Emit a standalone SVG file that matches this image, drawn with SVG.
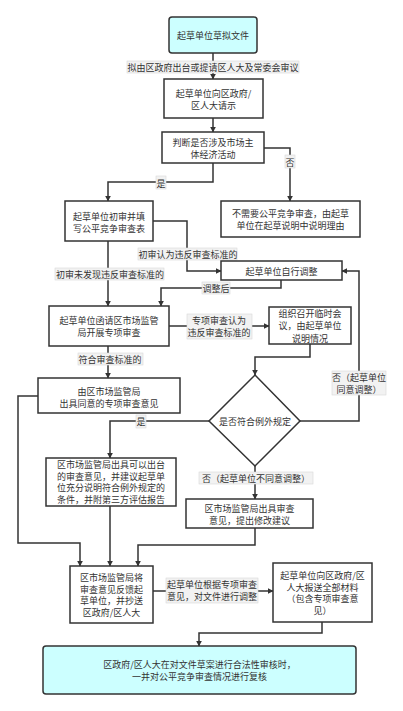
<svg xmlns="http://www.w3.org/2000/svg" width="403" height="711" viewBox="0 0 403 711">
<defs>
<marker id="arr" viewBox="0 0 10 10" refX="9" refY="5" markerWidth="6" markerHeight="6" orient="auto" markerUnits="userSpaceOnUse">
<path d="M0,0 L10,5 L0,10 Z" fill="#333"/>
</marker>
<style>
.box{fill:#fff;stroke:#333;stroke-width:1.5}
.cyan{fill:#ccffff;stroke:#333;stroke-width:1.5}
.e{fill:none;stroke:#333;stroke-width:1.5;marker-end:url(#arr)}
.t{font-family:"Noto Sans CJK SC","Noto Sans",sans-serif;font-size:9px;fill:#333;text-anchor:middle;dominant-baseline:central}
.lb{fill:#f2f2f2;stroke:#d8d8d8;stroke-width:0.6}
</style>
</defs>
<rect width="403" height="711" fill="#fff"/>
<g id="connectors">
<path class="e" d="M213,53 V79"/>
<path class="e" d="M213,118 V132"/>
<path class="e" d="M264,148 H290 V201"/>
<path class="e" d="M213,163 V182 H108 V201"/>
<path class="e" d="M153,221 H187 V271 H221"/>
<path class="e" d="M108,241 V306"/>
<path class="e" d="M281,280 V288 H161 V306"/>
<path class="e" d="M169,326 H269"/>
<path class="e" d="M310,344 V357 H255 V375"/>
<path class="e" d="M108,346 V378"/>
<path class="e" d="M300,421 H359 V271 H342"/>
<path class="e" d="M209,421 H110 V458"/>
<path class="e" d="M255,466 V499"/>
<path class="e" d="M38,396 H18 V543 H80 V566"/>
<path class="e" d="M110,506 V566"/>
<path class="e" d="M255,528 V545 H138 V566"/>
<path class="e" d="M153,591 H273"/>
<path class="e" d="M322,622 V633 H199 V646"/>
</g>
<g id="labels">
<rect class="lb" x="127" y="61" width="172" height="12"/>
<text class="t" x="213" y="67">拟由区政府出台或提请区人大及常委会审议</text>
<rect class="lb" x="285" y="155" width="10" height="13"/>
<text class="t" x="290" y="162">否</text>
<rect class="lb" x="156" y="176" width="10" height="13"/>
<text class="t" x="161" y="183">是</text>
<rect class="lb" x="138" y="248" width="99" height="12"/>
<text class="t" x="188" y="254">初审认为违反审查标准的</text>
<rect class="lb" x="55" y="268" width="109" height="12"/>
<text class="t" x="110" y="274">初审未发现违反审查标准的</text>
<rect class="lb" x="202" y="282" width="28" height="12"/>
<text class="t" x="216" y="288">调整后</text>
<rect class="lb" x="187" y="314" width="65" height="25"/>
<text class="t" x="219" y="320.5">专项审查认为</text>
<text class="t" x="219" y="332.5">违反审查标准的</text>
<rect class="lb" x="78" y="353" width="65" height="12"/>
<text class="t" x="110" y="359">符合审查标准的</text>
<rect class="lb" x="332" y="371" width="54" height="24"/>
<text class="t" x="359" y="377">否（起草单位</text>
<text class="t" x="359" y="389">同意调整）</text>
<rect class="lb" x="136" y="415" width="10" height="13"/>
<text class="t" x="141" y="421">是</text>
<rect class="lb" x="199" y="472" width="114" height="12"/>
<text class="t" x="256" y="478">否（起草单位不同意调整）</text>
<rect class="lb" x="166" y="578" width="92" height="25"/>
<text class="t" x="212" y="584.5">起草单位根据专项审查</text>
<text class="t" x="212" y="596.5">意见，对文件进行调整</text>
</g>
<g id="n1"><rect class="cyan" x="169" y="17" width="88" height="36" rx="3"/><text class="t" x="213" y="35">起草单位草拟文件</text></g>
<g id="n2"><rect class="box" x="164" y="79" width="99" height="39"/><text class="t" x="213.5" y="93">起草单位向区政府/</text><text class="t" x="213.5" y="105.5">区人大请示</text></g>
<g id="n3"><rect class="box" x="162" y="132" width="102" height="31"/><text class="t" x="213" y="142">判断是否涉及市场主</text><text class="t" x="213" y="154">体经济活动</text></g>
<g id="n4"><rect class="box" x="65" y="201" width="88" height="40"/><text class="t" x="109" y="216">起草单位初审并填</text><text class="t" x="109" y="228">写公平竞争审查表</text></g>
<g id="n5"><rect class="box" x="221" y="201" width="139" height="36"/><text class="t" x="290.5" y="213">不需要公平竞争审查，由起草</text><text class="t" x="290.5" y="225">单位在起草说明中说明理由</text></g>
<g id="n6"><rect class="box" x="221" y="261" width="121" height="19"/><text class="t" x="281.5" y="271">起草单位自行调整</text></g>
<g id="n7"><rect class="box" x="49" y="306" width="120" height="40"/><text class="t" x="109" y="320.5">起草单位函请区市场监管</text><text class="t" x="109" y="332.5">局开展专项审查</text></g>
<g id="n8"><rect class="box" x="269" y="307" width="82" height="37"/><text class="t" x="310" y="313">组织召开临时会</text><text class="t" x="310" y="325.5">议，由起草单位</text><text class="t" x="310" y="338">说明情况</text></g>
<g id="n9"><rect class="box" x="38" y="378" width="142" height="35"/><text class="t" x="109" y="391">由区市场监管局</text><text class="t" x="109" y="403">出具同意的专项审查意见</text></g>
<g id="d1"><path class="box" d="M255,375 L300,421 L255,466 L209,421 Z"/><text class="t" x="255" y="421">是否符合例外规定</text></g>
<g id="n10"><rect class="box" x="46" y="458" width="130" height="48"/><text class="t" x="111" y="464.75">区市场监管局出具可以出台</text><text class="t" x="111" y="476.25">的审查意见，并建议起草单</text><text class="t" x="111" y="487.75">位充分说明符合例外规定的</text><text class="t" x="111" y="499.25">条件，并附第三方评估报告</text></g>
<g id="n12"><rect class="box" x="186" y="499" width="127" height="29"/><text class="t" x="249.5" y="508">区市场监管局出具审查</text><text class="t" x="249.5" y="520">意见，提出修改建议</text></g>
<g id="n11"><rect class="box" x="70" y="566" width="83" height="57"/><text class="t" x="111.5" y="577.5">区市场监管局将</text><text class="t" x="111.5" y="589">审查意见反馈起</text><text class="t" x="111.5" y="600.5">草单位，并抄送</text><text class="t" x="111.5" y="612">区政府/区人大</text></g>
<g id="n13"><rect class="box" x="273" y="563" width="99" height="59"/><text class="t" x="322.5" y="575.75">起草单位向区政府/区</text><text class="t" x="322.5" y="587.25">人大报送全部材料</text><text class="t" x="322.5" y="598.75">（包含专项审查意</text><text class="t" x="322.5" y="610.25">见）</text></g>
<g id="n14"><rect class="cyan" x="43" y="646" width="313" height="48" rx="3"/><text class="t" x="199.5" y="664">区政府/区人大在对文件草案进行合法性审核时，</text><text class="t" x="199.5" y="676">一并对公平竞争审查情况进行复核</text></g>
</svg>
